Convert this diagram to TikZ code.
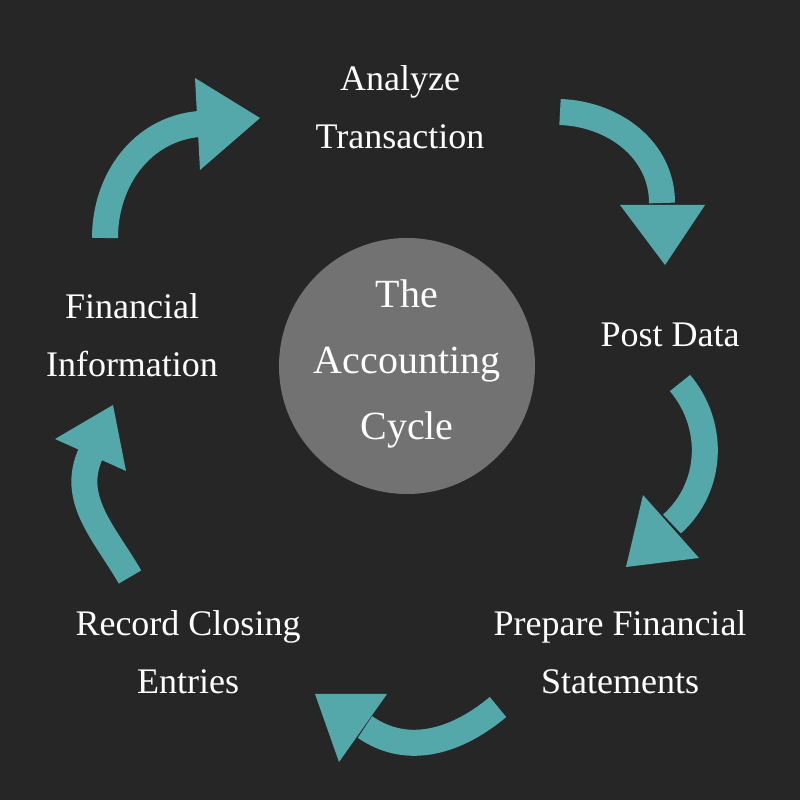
\documentclass[tikz,border=0pt]{standalone}
\usepackage{fontspec}
\setmainfont{Liberation Serif}
\definecolor{bg}{HTML}{262626}
\definecolor{teal}{HTML}{55A8AA}
\definecolor{circ}{HTML}{727272}
\begin{document}
\begin{tikzpicture}[x=1pt,y=1pt,
  band/.style={draw=teal,line width=26pt,line cap=butt},
  head/.style={fill=teal},
  lbl/.style={text=white,align=center,font=\fontsize{36}{58}\selectfont}]
\fill[bg] (0,0) rectangle (800,800);
\useasboundingbox (0,0) rectangle (800,800);
\node[circle,fill=circ,minimum size=256pt,inner sep=0pt] (c) at (407,434) {};
\node[text=white,align=center,font=\fontsize{40}{66}\selectfont] (ct) at (407,436) {The\\Accounting\\Cycle};
\node[lbl] (n1) at (400,693) {Analyze\\Transaction};
\node[lbl] (n2) at (670,465) {Post Data};
\node[lbl] (n3) at (620,148) {Prepare Financial\\Statements};
\node[lbl] (n4) at (188,148) {Record Closing\\Entries};
\node[lbl] (n5) at (132,465) {Financial\\Information};
% arrow 1
\coordinate (a1s) at (105,562); \coordinate (a1e) at (199,676);
\draw[band] (a1s) to[out=90,in=185] (a1e);
\fill[head] (195,722) -- (260,682) -- (200,630) -- cycle;
% arrow 2
\coordinate (a2s) at (560,688); \coordinate (a2e) at (662,597);
\draw[band] (a2s) to[out=-2,in=90] (a2e);
\fill[head] (620,595) -- (705,595) -- (665,535) -- cycle;
% arrow 3
\coordinate (a3s) at (680,417); \coordinate (a3e) at (672,276);
\draw[band] (a3s) to[out=-50,in=42] (a3e);
\fill[head] (643,305) -- (699,242) -- (626,233) -- cycle;
% arrow 4
\coordinate (a4s) at (498,93); \coordinate (a4e) at (365,73);
\draw[band] (a4s) to[out=220,in=-35] (a4e);
\fill[head] (315,106) -- (387,106) -- (339,38) -- cycle;
% arrow 5
\coordinate (a5s) at (130,223); \coordinate (a5e) at (91,347);
\draw[band] (a5s) to[out=120,in=245] (a5e);
\fill[head] (55,361) -- (113,395) -- (126,329) -- cycle;
\end{tikzpicture}
\end{document}
